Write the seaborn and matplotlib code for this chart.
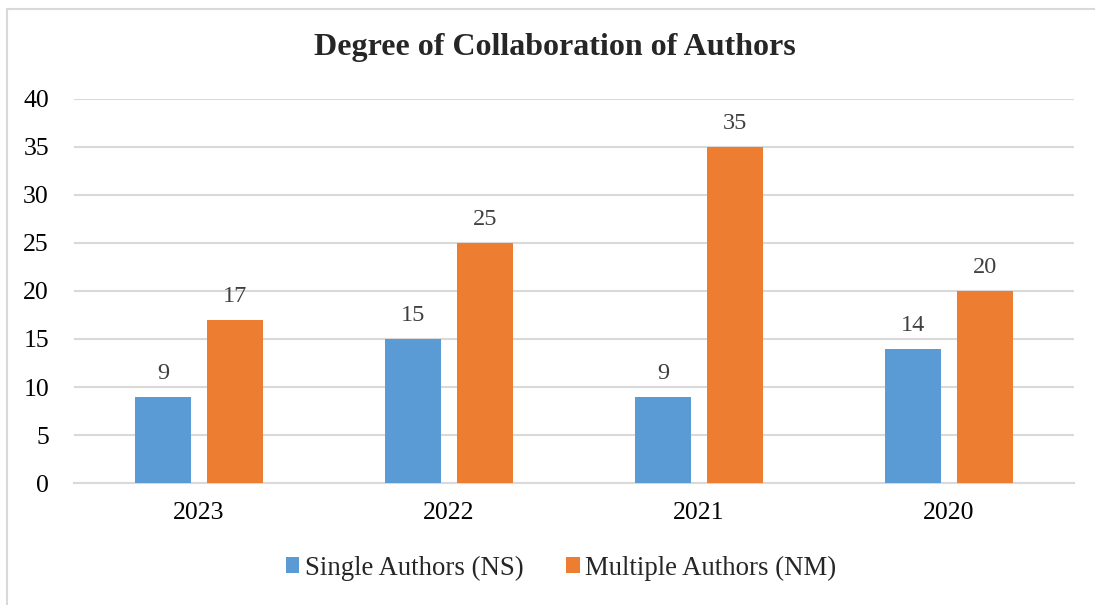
import pandas as pd
import matplotlib.pyplot as plt
import seaborn as sns
from matplotlib.patches import Rectangle

years = ["2023", "2022", "2021", "2020"]
single_authors = [9, 15, 9, 14]
multiple_authors = [17, 25, 35, 20]
series_names = ["Single Authors (NS)", "Multiple Authors (NM)"]
colors = ["#5B9BD5", "#ED7D31"]

df = pd.DataFrame({
    "year": years * 2,
    "count": single_authors + multiple_authors,
    "series": [series_names[0]] * 4 + [series_names[1]] * 4,
})

sns.set_style("white")
plt.rcParams["font.family"] = ["Liberation Serif", "DejaVu Serif"]

fig = plt.figure(figsize=(10.95, 6.05), dpi=100)
ax = fig.add_axes([74 / 1095, 1 - 483 / 605, 1000 / 1095, 384 / 605])

sns.barplot(data=df, x="year", y="count", hue="series", palette=colors,
            width=0.576, gap=0.222, saturation=1, linewidth=0, ax=ax, zorder=3)

for c in ax.containers:
    ax.bar_label(c, padding=9, fontsize=17.5, color="#404040")

ax.set_ylim(0, 40)
ax.set_yticks(range(0, 41, 5))
ax.set_xlim(-0.5, 3.5)
ax.yaxis.grid(True, color="#d9d9d9", linewidth=1.5, zorder=0)
ax.set_xlabel("")
ax.set_ylabel("")
for s in ["top", "right", "left"]:
    ax.spines[s].set_visible(False)
ax.spines["bottom"].set_color("#d9d9d9")
ax.spines["bottom"].set_linewidth(1.5)
ax.tick_params(axis="both", length=0, labelsize=18.5, colors="black")
ax.tick_params(axis="y", pad=18)
ax.tick_params(axis="x", pad=14)

fig.text(555 / 1095, 1 - 48 / 605, "Degree of Collaboration of Authors",
         fontsize=23, fontweight="bold", ha="center", va="center")

handles, labels = ax.get_legend_handles_labels()
ax.legend(handles, labels, loc="center", bbox_to_anchor=(561 / 1095, (605 - 568) / 605),
          bbox_transform=fig.transFigure, ncol=2, frameon=False, fontsize=19.3,
          handlelength=0.5, handleheight=0.5, handletextpad=0.2, columnspacing=1.6)

fig.patches.append(Rectangle((7 / 1095, -0.1), 1.2, 1 - 9 / 605 + 0.1,
                             transform=fig.transFigure, fill=False,
                             edgecolor="#d9d9d9", linewidth=1.5))

fig.savefig("out.png", dpi=100)
